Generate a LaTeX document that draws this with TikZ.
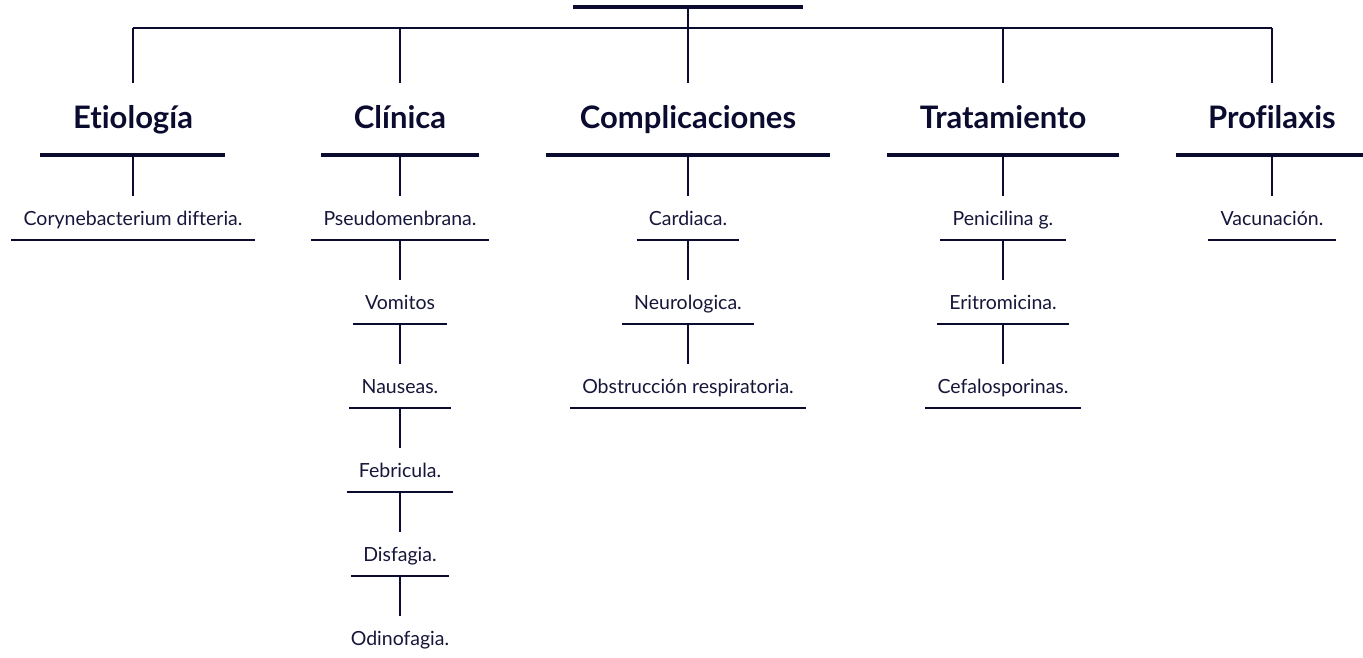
\documentclass[tikz,border=0pt]{standalone}
\usepackage{fontspec}
\setmainfont{Lato}[Ligatures=NoCommon]
\definecolor{navy}{HTML}{0B0B30}
\definecolor{txt}{HTML}{16163A}
\begin{document}
\begin{tikzpicture}[x=1pt,y=-1pt,
  thinline/.style={draw=navy,line width=1.3pt},
  bar/.style={fill=navy,draw=none,inner sep=0pt,minimum height=4pt,rectangle},
  head/.style={anchor=base,inner sep=0pt,text=navy,font=\fontsize{31}{35}\selectfont\bfseries},
  item/.style={anchor=base,inner xsep=12pt,inner ysep=0pt,text=txt,font=\fontsize{19.5}{22}\selectfont},
]
\useasboundingbox (0,0) rectangle (1363,657);
% root
\node[bar,minimum width=230pt] (root) at (688,7) {};
\coordinate (hj) at (688,28);
\draw[navy,line width=1.3pt] (root.center) -- (hj);
% headers
\foreach \n/\x/\t/\l/\r in {e/133/Etiología/40/225, c/400/Clínica/321/479, k/688/Complicaciones/546/830, t/1003/Tratamiento/887/1119, p/1272/Profilaxis/1176/1363}{
  \node[head] (\n h) at (\x,128) {\t};
  \pgfmathsetmacro\w{\r-\l}
  \pgfmathsetmacro\cx{(\r+\l)/2}
  \node[bar,minimum width=\w pt] (\n b) at (\cx,155) {};
  \coordinate (\n top) at (\x,28);
  \draw[thinline] (\n top) -- ([yshift=45pt]\n h.base);
}
\draw[thinline] (etop) -- (ptop);
% items
\node[item] (e1) at (133,225) {Corynebacterium difteria.};
\node[item] (c1) at (400,225) {Pseudomenbrana.};
\node[item] (c2) at (400,309) {Vomitos};
\node[item] (c3) at (400,393) {Nauseas.};
\node[item] (c4) at (400,477) {Febricula.};
\node[item] (c5) at (400,561) {Disfagia.};
\node[item] (c6) at (400,645) {Odinofagia.};
\node[item] (k1) at (688,225) {Cardiaca.};
\node[item] (k2) at (688,309) {Neurologica.};
\node[item] (k3) at (688,393) {Obstrucción respiratoria.};
\node[item] (t1) at (1003,225) {Penicilina g.};
\node[item] (t2) at (1003,309) {Eritromicina.};
\node[item] (t3) at (1003,393) {Cefalosporinas.};
\node[item] (p1) at (1272,225) {Vacunación.};
% underlines
\foreach \n in {e1,c1,c2,c3,c4,c5,k1,k2,k3,t1,t2,t3,p1}{
  \draw[thinline] ([yshift=-15pt]\n.base west) -- ([yshift=-15pt]\n.base east);
}
% header bar to first item
\foreach \n in {e,c,k,t,p}{
  \draw[thinline] (\n b.center -| \n 1.base) -- ([yshift=29pt]\n 1.base);
}
% chains
\foreach \a/\b in {c1/c2,c2/c3,c3/c4,c4/c5,c5/c6,k1/k2,k2/k3,t1/t2,t2/t3}{
  \draw[thinline] ([yshift=-15pt]\a.base) -- ([yshift=29pt]\b.base);
}
\end{tikzpicture}
\end{document}
